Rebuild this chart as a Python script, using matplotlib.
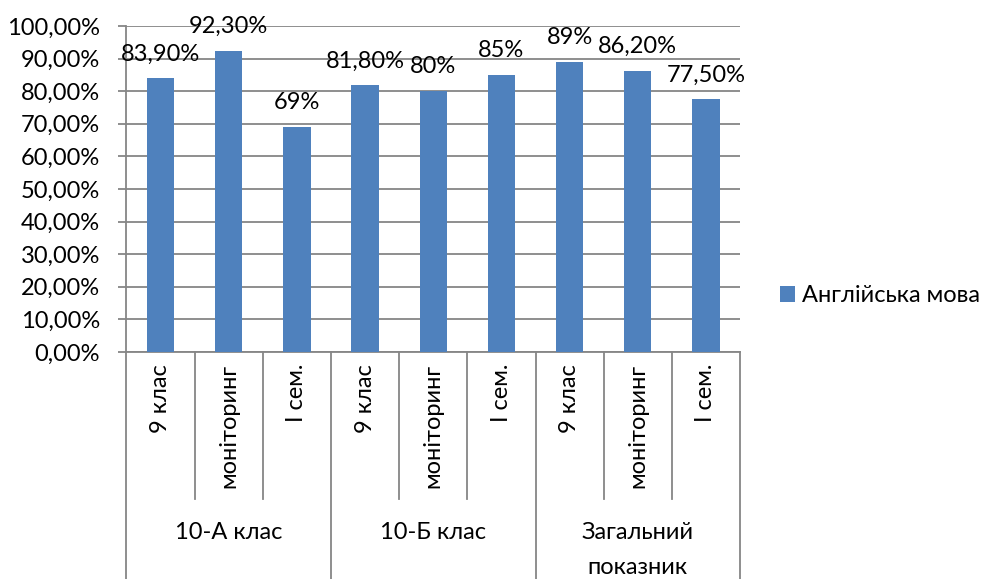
import matplotlib
matplotlib.use("Agg")
import matplotlib.pyplot as plt
import numpy as np

# data
groups = ["10-А клас", "10-Б клас", "Загальний\nпоказник"]
subcats = ["9 клас", "моніторинг", "І сем."]
values = [83.9, 92.3, 69.0, 81.8, 80.0, 85.0, 89.0, 86.2, 77.5]
value_labels = ["83,90%", "92,30%", "69%", "81,80%", "80%", "85%", "89%", "86,20%", "77,50%"]
yticks = [0, 10, 20, 30, 40, 50, 60, 70, 80, 90, 100]
ytick_labels = ["0,00%", "10,00%", "20,00%", "30,00%", "40,00%", "50,00%",
                "60,00%", "70,00%", "80,00%", "90,00%", "100,00%"]
series_name = "Англійська мова"

plt.rcParams['font.family'] = ['Lato', 'DejaVu Sans']
fs = 17
grey = "#868686"
blue = "#4F81BD"

fig = plt.figure(figsize=(9.9, 5.79), dpi=100)
ax = fig.add_axes([126.5 / 990, 1 - 352 / 579, (740 - 126.5) / 990, 326 / 579])

x = np.arange(len(values))
bars = ax.bar(x, values, width=0.4, color=blue, label=series_name, zorder=3)

for xi, v, lab in zip(x, values, value_labels):
    ax.annotate(lab, (xi, v), xytext=(0, 10), textcoords="offset points",
                ha="center", va="bottom", fontsize=fs, color="black", zorder=4)

ax.set_xlim(-0.5, len(values) - 0.5)
ax.set_ylim(0, 100)
ax.set_yticks(yticks)
ax.set_yticklabels(ytick_labels, fontsize=fs)
ax.yaxis.grid(True, color=grey, linewidth=1.3, zorder=0)
ax.tick_params(axis="y", length=6, width=1.3, color=grey, pad=13, direction="out")
ax.set_xticks([])

for s in ["top", "right"]:
    ax.spines[s].set_visible(False)
for s in ["left", "bottom"]:
    ax.spines[s].set_color(grey)
    ax.spines[s].set_linewidth(1.3)

# multi-level category axis
tr = ax.get_xaxis_transform()
n_sub = len(subcats)
inner_bottom = (352 - 499) / 326
outer_bottom = (352 - 600) / 326
for b in np.arange(-0.5, len(values), 1.0):
    is_group = int(round(b + 0.5)) % n_sub == 0
    ax.plot([b, b], [0, outer_bottom if is_group else inner_bottom], transform=tr,
            color=grey, linewidth=1.3, clip_on=False)

for i in range(len(values)):
    ax.text(i, (352 - 364) / 326, subcats[i % n_sub], transform=tr, rotation=90,
            ha="center", va="top", fontsize=fs)

for g, name in enumerate(groups):
    ax.text(g * n_sub + (n_sub - 1) / 2, (352 - 522) / 326, name, transform=tr,
            ha="center", va="top", fontsize=fs, linespacing=1.8)

fig.legend(handles=[bars], labels=[series_name], loc="center left",
           bbox_to_anchor=(780 / 990, 1 - 296 / 579), frameon=False, fontsize=fs,
           handlelength=0.65, handleheight=0.65, handletextpad=0.3,
           borderpad=0, borderaxespad=0)

fig.savefig("out.png", dpi=100)
